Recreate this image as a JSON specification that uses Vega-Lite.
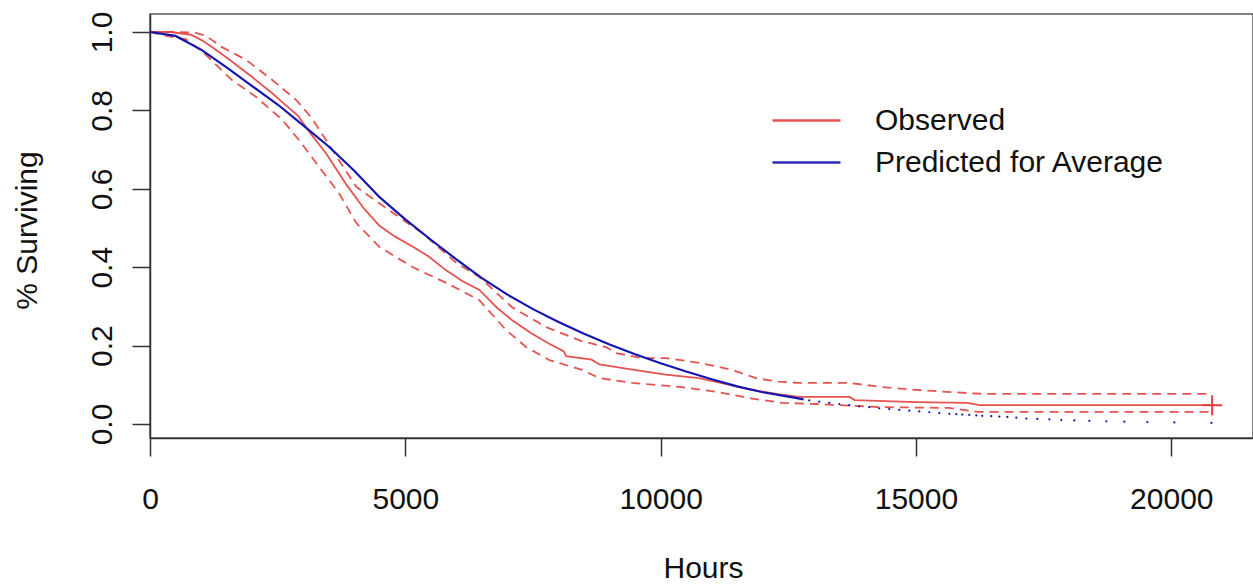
{
  "$schema": "https://vega.github.io/schema/vega-lite/v6.json",
  "width": 1103,
  "height": 424,
  "autosize": {"type": "none"},
  "padding": {"left": 150, "top": 14, "right": 0, "bottom": 148},
  "background": "white",
  "config": {
    "view": {"stroke": "#555", "strokeWidth": 1.5},
    "font": "Liberation Sans"
  },
  "datasets": {
    "km": [
      {"hours": 0, "surv": 1.0, "series": "Observed"},
      {"hours": 400, "surv": 1.0, "series": "Observed"},
      {"hours": 800, "surv": 0.993, "series": "Observed"},
      {"hours": 1000, "surv": 0.98, "series": "Observed"},
      {"hours": 1200, "surv": 0.963, "series": "Observed"},
      {"hours": 1500, "surv": 0.935, "series": "Observed"},
      {"hours": 1750, "surv": 0.91, "series": "Observed"},
      {"hours": 2000, "surv": 0.885, "series": "Observed"},
      {"hours": 2400, "surv": 0.843, "series": "Observed"},
      {"hours": 2600, "surv": 0.82, "series": "Observed"},
      {"hours": 2900, "surv": 0.786, "series": "Observed"},
      {"hours": 3150, "surv": 0.74, "series": "Observed"},
      {"hours": 3450, "surv": 0.69, "series": "Observed"},
      {"hours": 3850, "surv": 0.61, "series": "Observed"},
      {"hours": 4200, "surv": 0.548, "series": "Observed"},
      {"hours": 4500, "surv": 0.505, "series": "Observed"},
      {"hours": 4800, "surv": 0.478, "series": "Observed"},
      {"hours": 5150, "surv": 0.452, "series": "Observed"},
      {"hours": 5450, "surv": 0.428, "series": "Observed"},
      {"hours": 5800, "surv": 0.392, "series": "Observed"},
      {"hours": 6100, "surv": 0.366, "series": "Observed"},
      {"hours": 6450, "surv": 0.342, "series": "Observed"},
      {"hours": 6800, "surv": 0.296, "series": "Observed"},
      {"hours": 7100, "surv": 0.264, "series": "Observed"},
      {"hours": 7450, "surv": 0.233, "series": "Observed"},
      {"hours": 7800, "surv": 0.206, "series": "Observed"},
      {"hours": 8100, "surv": 0.186, "series": "Observed"},
      {"hours": 8150, "surv": 0.173, "series": "Observed"},
      {"hours": 8650, "surv": 0.164, "series": "Observed"},
      {"hours": 8800, "surv": 0.152, "series": "Observed"},
      {"hours": 9450, "surv": 0.139, "series": "Observed"},
      {"hours": 10100, "surv": 0.126, "series": "Observed"},
      {"hours": 10750, "surv": 0.117, "series": "Observed"},
      {"hours": 11200, "surv": 0.104, "series": "Observed"},
      {"hours": 11750, "surv": 0.088, "series": "Observed"},
      {"hours": 12300, "surv": 0.076, "series": "Observed"},
      {"hours": 12700, "surv": 0.069, "series": "Observed"},
      {"hours": 13700, "surv": 0.069, "series": "Observed"},
      {"hours": 13800, "surv": 0.061, "series": "Observed"},
      {"hours": 15000, "surv": 0.056, "series": "Observed"},
      {"hours": 16000, "surv": 0.054, "series": "Observed"},
      {"hours": 16250, "surv": 0.048, "series": "Observed"},
      {"hours": 20800, "surv": 0.048, "series": "Observed"}
    ],
    "ci": [
      {"hours": 0, "surv": 1.0, "bound": "upper"},
      {"hours": 500, "surv": 1.0, "bound": "upper"},
      {"hours": 900, "surv": 0.998, "bound": "upper"},
      {"hours": 1100, "surv": 0.99, "bound": "upper"},
      {"hours": 1400, "surv": 0.962, "bound": "upper"},
      {"hours": 1880, "surv": 0.929, "bound": "upper"},
      {"hours": 2390, "surv": 0.878, "bound": "upper"},
      {"hours": 2860, "surv": 0.827, "bound": "upper"},
      {"hours": 3170, "surv": 0.78, "bound": "upper"},
      {"hours": 3450, "surv": 0.724, "bound": "upper"},
      {"hours": 3700, "surv": 0.673, "bound": "upper"},
      {"hours": 4040, "surv": 0.605, "bound": "upper"},
      {"hours": 4490, "surv": 0.563, "bound": "upper"},
      {"hours": 5330, "surv": 0.487, "bound": "upper"},
      {"hours": 6000, "surv": 0.411, "bound": "upper"},
      {"hours": 6450, "surv": 0.375, "bound": "upper"},
      {"hours": 7090, "surv": 0.298, "bound": "upper"},
      {"hours": 7760, "surv": 0.247, "bound": "upper"},
      {"hours": 8400, "surv": 0.214, "bound": "upper"},
      {"hours": 8930, "surv": 0.196, "bound": "upper"},
      {"hours": 9130, "surv": 0.181, "bound": "upper"},
      {"hours": 9640, "surv": 0.168, "bound": "upper"},
      {"hours": 10110, "surv": 0.168, "bound": "upper"},
      {"hours": 10760, "surv": 0.156, "bound": "upper"},
      {"hours": 11400, "surv": 0.138, "bound": "upper"},
      {"hours": 11870, "surv": 0.117, "bound": "upper"},
      {"hours": 12300, "surv": 0.108, "bound": "upper"},
      {"hours": 12710, "surv": 0.105, "bound": "upper"},
      {"hours": 13690, "surv": 0.105, "bound": "upper"},
      {"hours": 14340, "surv": 0.094, "bound": "upper"},
      {"hours": 15000, "surv": 0.087, "bound": "upper"},
      {"hours": 15990, "surv": 0.079, "bound": "upper"},
      {"hours": 16300, "surv": 0.077, "bound": "upper"},
      {"hours": 20800, "surv": 0.077, "bound": "upper"},
      {"hours": 0, "surv": 1.0, "bound": "lower"},
      {"hours": 400, "surv": 0.988, "bound": "lower"},
      {"hours": 700, "surv": 0.982, "bound": "lower"},
      {"hours": 1100, "surv": 0.941, "bound": "lower"},
      {"hours": 1600, "surv": 0.878, "bound": "lower"},
      {"hours": 2080, "surv": 0.834, "bound": "lower"},
      {"hours": 2590, "surv": 0.776, "bound": "lower"},
      {"hours": 2920, "surv": 0.724, "bound": "lower"},
      {"hours": 3310, "surv": 0.656, "bound": "lower"},
      {"hours": 3700, "surv": 0.589, "bound": "lower"},
      {"hours": 4040, "surv": 0.513, "bound": "lower"},
      {"hours": 4490, "surv": 0.452, "bound": "lower"},
      {"hours": 5130, "surv": 0.401, "bound": "lower"},
      {"hours": 5800, "surv": 0.36, "bound": "lower"},
      {"hours": 6450, "surv": 0.316, "bound": "lower"},
      {"hours": 6970, "surv": 0.24, "bound": "lower"},
      {"hours": 7370, "surv": 0.196, "bound": "lower"},
      {"hours": 7820, "surv": 0.163, "bound": "lower"},
      {"hours": 8460, "surv": 0.138, "bound": "lower"},
      {"hours": 8800, "surv": 0.117, "bound": "lower"},
      {"hours": 9440, "surv": 0.105, "bound": "lower"},
      {"hours": 10420, "surv": 0.094, "bound": "lower"},
      {"hours": 11090, "surv": 0.082, "bound": "lower"},
      {"hours": 11740, "surv": 0.066, "bound": "lower"},
      {"hours": 12380, "surv": 0.054, "bound": "lower"},
      {"hours": 13050, "surv": 0.051, "bound": "lower"},
      {"hours": 14340, "surv": 0.043, "bound": "lower"},
      {"hours": 15650, "surv": 0.041, "bound": "lower"},
      {"hours": 16200, "surv": 0.031, "bound": "lower"},
      {"hours": 20800, "surv": 0.031, "bound": "lower"}
    ],
    "pred": [
      {"hours": 0, "surv": 1.0, "series": "Predicted for Average"},
      {"hours": 500, "surv": 0.99, "series": "Predicted for Average"},
      {"hours": 1000, "surv": 0.955, "series": "Predicted for Average"},
      {"hours": 1500, "surv": 0.91, "series": "Predicted for Average"},
      {"hours": 2000, "surv": 0.862, "series": "Predicted for Average"},
      {"hours": 2500, "surv": 0.815, "series": "Predicted for Average"},
      {"hours": 3000, "surv": 0.762, "series": "Predicted for Average"},
      {"hours": 3500, "surv": 0.708, "series": "Predicted for Average"},
      {"hours": 4000, "surv": 0.646, "series": "Predicted for Average"},
      {"hours": 4500, "surv": 0.578, "series": "Predicted for Average"},
      {"hours": 5000, "surv": 0.522, "series": "Predicted for Average"},
      {"hours": 5500, "surv": 0.47, "series": "Predicted for Average"},
      {"hours": 6000, "surv": 0.42, "series": "Predicted for Average"},
      {"hours": 6500, "surv": 0.372, "series": "Predicted for Average"},
      {"hours": 7000, "surv": 0.33, "series": "Predicted for Average"},
      {"hours": 7500, "surv": 0.293, "series": "Predicted for Average"},
      {"hours": 8000, "surv": 0.26, "series": "Predicted for Average"},
      {"hours": 8500, "surv": 0.23, "series": "Predicted for Average"},
      {"hours": 9000, "surv": 0.203, "series": "Predicted for Average"},
      {"hours": 9500, "surv": 0.178, "series": "Predicted for Average"},
      {"hours": 10000, "surv": 0.155, "series": "Predicted for Average"},
      {"hours": 10500, "surv": 0.134, "series": "Predicted for Average"},
      {"hours": 11000, "surv": 0.114, "series": "Predicted for Average"},
      {"hours": 11500, "surv": 0.096, "series": "Predicted for Average"},
      {"hours": 12000, "surv": 0.081, "series": "Predicted for Average"},
      {"hours": 12500, "surv": 0.07, "series": "Predicted for Average"},
      {"hours": 12800, "surv": 0.063, "series": "Predicted for Average"}
    ],
    "predTail": [
      {"hours": 12910, "surv": 0.06},
      {"hours": 13106, "surv": 0.057},
      {"hours": 13302, "surv": 0.054},
      {"hours": 13498, "surv": 0.051},
      {"hours": 13694, "surv": 0.048},
      {"hours": 13890, "surv": 0.045},
      {"hours": 14085, "surv": 0.043},
      {"hours": 14281, "surv": 0.04},
      {"hours": 14477, "surv": 0.038},
      {"hours": 14673, "surv": 0.036},
      {"hours": 14869, "surv": 0.034},
      {"hours": 15065, "surv": 0.032},
      {"hours": 15261, "surv": 0.03},
      {"hours": 15457, "surv": 0.028},
      {"hours": 15653, "surv": 0.026},
      {"hours": 15790, "surv": 0.025},
      {"hours": 15907, "surv": 0.024},
      {"hours": 16044, "surv": 0.023},
      {"hours": 16181, "surv": 0.022},
      {"hours": 16299, "surv": 0.021},
      {"hours": 16475, "surv": 0.02},
      {"hours": 16632, "surv": 0.019},
      {"hours": 16789, "surv": 0.018},
      {"hours": 16965, "surv": 0.016},
      {"hours": 17161, "surv": 0.014},
      {"hours": 17377, "surv": 0.013},
      {"hours": 17612, "surv": 0.012},
      {"hours": 17847, "surv": 0.01},
      {"hours": 18101, "surv": 0.009},
      {"hours": 18395, "surv": 0.008},
      {"hours": 18728, "surv": 0.007},
      {"hours": 19081, "surv": 0.006},
      {"hours": 19531, "surv": 0.005},
      {"hours": 20060, "surv": 0.004},
      {"hours": 20785, "surv": 0.003}
    ],
    "censor": [
      {"hours": 20800, "surv": 0.048}
    ]
  },
  "encoding": {
    "x": {
      "field": "hours",
      "type": "quantitative",
      "scale": {"domain": [0, 21600], "nice": false, "zero": false},
      "axis": {
        "title": "Hours",
        "titleFont": "Liberation Sans",
        "titleFontSize": 30,
        "titleFontWeight": "normal",
        "titleColor": "#111",
        "titleX": 553,
        "titleY": 139,
        "titleBaseline": "alphabetic",
        "titleAlign": "center",
        "values": [0, 5000, 10000, 15000, 20000],
        "format": "d",
        "grid": false,
        "domainColor": "#333",
        "domainWidth": 1.5,
        "tickColor": "#333",
        "tickWidth": 1.5,
        "tickSize": 18,
        "labelFont": "Liberation Sans",
        "labelFontSize": 30,
        "labelColor": "#111",
        "labelBaseline": "alphabetic",
        "labelPadding": 52,
        "labelFlush": false,
        "labelOverlap": false
      }
    },
    "y": {
      "field": "surv",
      "type": "quantitative",
      "scale": {"domain": [-0.0357, 1.0459], "nice": false, "zero": false},
      "axis": {
        "title": "% Surviving",
        "titleFont": "Liberation Sans",
        "titleFontSize": 30,
        "titleFontWeight": "normal",
        "titleColor": "#111",
        "titleAngle": -90,
        "titleX": -114,
        "titleY": 216,
        "titleBaseline": "alphabetic",
        "titleAlign": "center",
        "values": [0, 0.2, 0.4, 0.6, 0.8, 1.0],
        "format": ".1f",
        "grid": false,
        "domainColor": "#333",
        "domainWidth": 1.5,
        "tickColor": "#333",
        "tickWidth": 1.5,
        "tickSize": 18,
        "labelFont": "Liberation Sans",
        "labelFontSize": 30,
        "labelColor": "#111",
        "labelAngle": -90,
        "labelAlign": "center",
        "labelBaseline": "alphabetic",
        "labelPadding": 21,
        "labelFlush": false,
        "labelOverlap": false
      }
    }
  },
  "layer": [
    {
      "data": {"name": "ci"},
      "mark": {"type": "line", "color": "#e2403e", "strokeWidth": 1.8, "strokeDash": [9, 6], "opacity": 0.9},
      "encoding": {"detail": {"field": "bound", "type": "nominal"}}
    },
    {
      "data": {"name": "km"},
      "mark": {"type": "line", "strokeWidth": 1.8, "opacity": 0.9},
      "encoding": {
        "color": {
          "field": "series",
          "type": "nominal",
          "scale": {"domain": ["Observed", "Predicted for Average"], "range": ["#e2403e", "#1515b0"]},
          "legend": {
            "title": null,
            "orient": "none",
            "legendX": 638,
            "legendY": 88,
            "padding": 0,
            "symbolType": "M-2,0H2",
            "symbolSize": 1156,
            "symbolStrokeWidth": 2.5,
            "labelFont": "Liberation Sans",
            "labelFontSize": 30,
            "labelColor": "#111",
            "labelOffset": 50,
            "rowPadding": 8,
            "labelLimit": 500
          }
        }
      }
    },
    {
      "data": {"name": "pred"},
      "mark": {"type": "line", "strokeWidth": 2.2},
      "encoding": {
        "color": {"field": "series", "type": "nominal"}
      }
    },
    {
      "data": {"name": "predTail"},
      "mark": {"type": "point", "filled": true, "size": 5, "color": "#1515b0", "opacity": 1}
    },
    {
      "data": {"name": "censor"},
      "mark": {"type": "point", "shape": "M-1,0H1M0,-1V1", "size": 400, "filled": false, "color": "#e2403e", "strokeWidth": 2, "opacity": 1}
    }
  ]
}
